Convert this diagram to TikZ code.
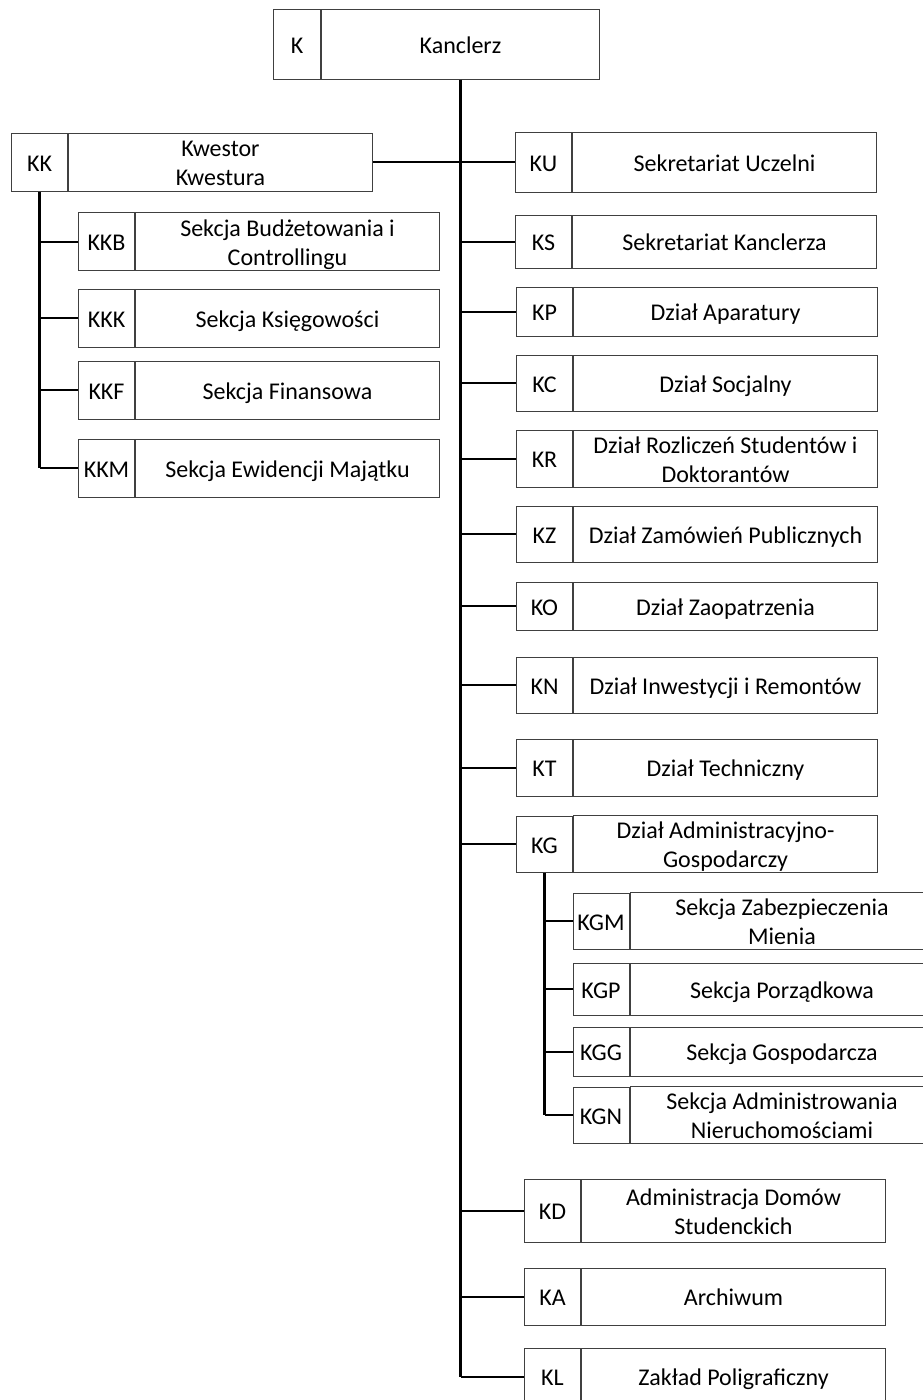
\documentclass[tikz,border=0pt]{standalone}
\usepackage{fontspec}
\setmainfont{Carlito}
\usetikzlibrary{positioning}
\newcommand{\boxstrut}{\rule[-5pt]{0pt}{28pt}}
\newcommand{\twolines}[2]{\boxstrut #1\\#2\boxstrut}

\begin{document}
\begin{tikzpicture}[x=1pt,y=-1pt,
  box/.style={draw=black!75, line width=1pt, inner sep=0pt, align=center,
    font=\fontsize{24}{26.7}\selectfont, execute at begin node=\boxstrut},
  codebox/.style={box, anchor=west, minimum width=56pt},
  namebox/.style={box, minimum width=304pt},
  trunk/.style={line width=3pt},
  conn/.style={line width=2pt}]
\useasboundingbox (0,0) rectangle (923,1400);
\clip (0,0) rectangle (923,1400);

\node[codebox, minimum width=47pt, minimum height=70pt] (k) at (273,44) {K};
\node[namebox, minimum width=278pt, minimum height=70pt, right=0pt of k] (kn) {Kanclerz};

\foreach \id/\code/\x/\y/\h/\txt in {
    ku/KU/515/162/60/Sekretariat Uczelni,
    ks/KS/515/241.5/53/Sekretariat Kanclerza,
    kp/KP/516/311.5/49/Dział Aparatury,
    kc/KC/516/383/56/Dział Socjalny,
    kr/KR/516/458.5/57/{\twolines{Dział Rozliczeń Studentów i}{Doktorantów}},
    kz/KZ/516/534/56/Dział Zamówień Publicznych,
    ko/KO/516/606/48/Dział Zaopatrzenia,
    kin/KN/516/685/56/Dział Inwestycji i Remontów,
    kt/KT/516/767.5/57/Dział Techniczny,
    kg/KG/516/844/56/{\twolines{Dział Administracyjno-}{Gospodarczy}},
    kd/KD/524/1210.5/63/{\twolines{Administracja Domów}{Studenckich}},
    ka/KA/524/1296.5/57/Archiwum,
    kl/KL/524/1376.5/57/Zakład Poligraficzny}
{
  \node[codebox, minimum height=\h] (\id) at (\x,\y) {\code};
  \node[namebox, minimum height=\h, right=0pt of \id] (\id n) {\txt};
  \draw[conn] (kn.south |- \id.west) -- (\id.west);
}
\draw[trunk] (kn.south) -- (kn.south |- kl.west);

\node[codebox, minimum height=58pt] (kk) at (11,162) {KK};
\node[namebox, minimum height=58pt, right=0pt of kk] (kkn) {\twolines{Kwestor}{Kwestura}};
\draw[conn] (kkn.east) -- (ku.west);

\foreach \id/\code/\y/\txt in {
    kkb/KKB/241.5/{\twolines{Sekcja Budżetowania i}{Controllingu}},
    kkk/KKK/318/Sekcja Księgowości,
    kkf/KKF/390/Sekcja Finansowa,
    kkm/KKM/468/Sekcja Ewidencji Majątku}
{
  \node[codebox, minimum height=58pt] (\id) at (78,\y) {\code};
  \node[namebox, minimum height=58pt, right=0pt of \id] (\id n) {\txt};
  \draw[conn] (kk.south |- \id.west) -- (\id.west);
}
\draw[trunk] (kk.south) -- (kk.south |- kkm.west);

\foreach \id/\code/\y/\h/\txt in {
    kgm/KGM/921/56/{\twolines{Sekcja Zabezpieczenia}{Mienia}},
    kgp/KGP/989/52/Sekcja Porządkowa,
    kgg/KGG/1051.5/49/Sekcja Gospodarcza,
    kgn/KGN/1115/56/{\twolines{Sekcja Administrowania}{Nieruchomościami}}}
{
  \node[codebox, minimum height=\h] (\id) at (572.5,\y) {\code};
  \node[namebox, minimum height=\h, right=0pt of \id] (\id n) {\txt};
  \draw[conn] (kg.south |- \id.west) -- (\id.west);
}
\draw[trunk] (kg.south) -- (kg.south |- kgn.west);
\end{tikzpicture}
\end{document}
